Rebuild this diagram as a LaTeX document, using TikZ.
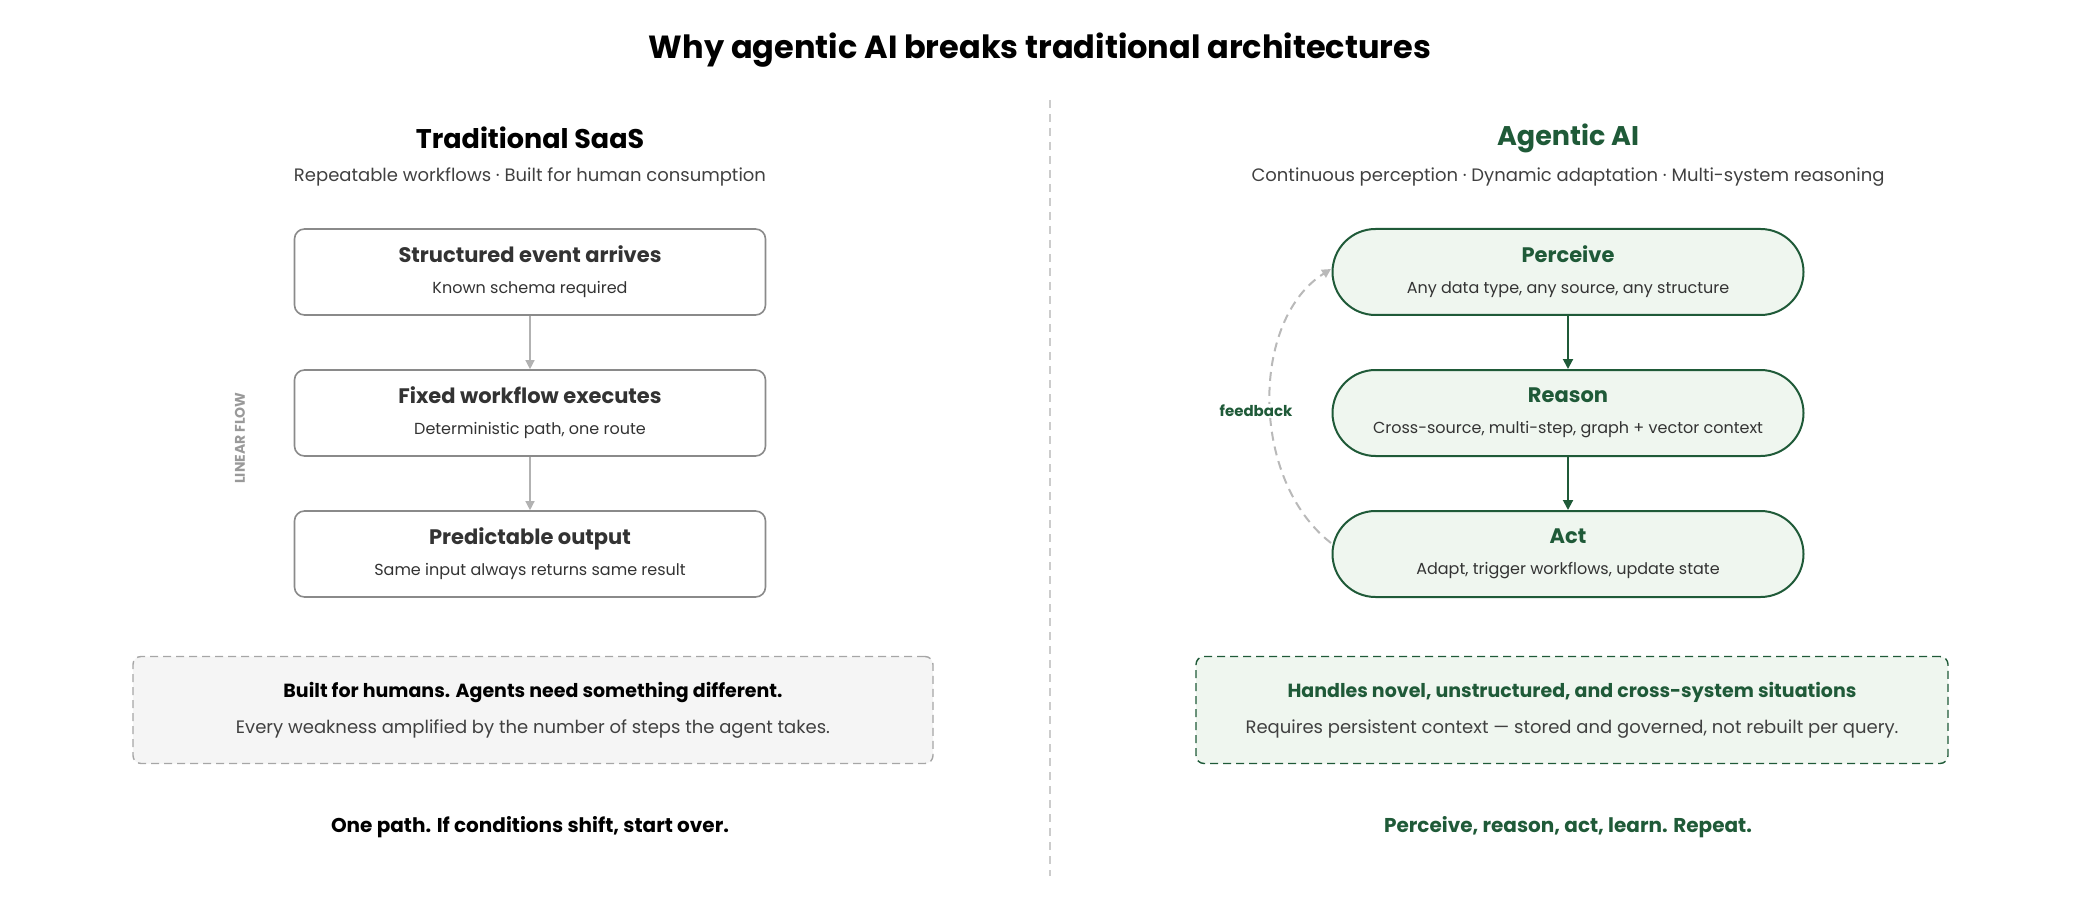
\documentclass[tikz,border=0pt]{standalone}
\usepackage{fontspec}
\setmainfont{Poppins}
\usetikzlibrary{arrows.meta}
\definecolor{dg}{HTML}{1F5A38}
\definecolor{lg}{HTML}{EFF6EF}
\definecolor{gb}{HTML}{8A8A8A}
\begin{document}
\begin{tikzpicture}[x=1pt,y=-1pt,
 box/.style={draw=gb,line width=1.6pt,rounded corners=10pt,fill=white,minimum width=471pt,minimum height=86pt,align=center,font=\fontsize{16}{31}\selectfont,text=black!80},
 pill/.style={draw=dg,line width=2pt,rounded corners=43pt,fill=lg,minimum width=471pt,minimum height=86pt,align=center,font=\fontsize{16}{31}\selectfont,text=black!80},
 bt/.style={font=\fontsize{20}{24}\selectfont\bfseries},
 note/.style={dash pattern=on 8pt off 5pt,line width=1.4pt,rounded corners=8pt,minimum height=107pt,align=center,font=\fontsize{18}{36}\selectfont}]
\useasboundingbox (0,0) rectangle (2080,901);
\node[font=\fontsize{32}{36}\selectfont\bfseries] (title) at (1040,50) {Why agentic AI breaks traditional architectures};
\draw[gray!40,line width=1.2pt,dash pattern=on 8pt off 6pt] (1050,100) -- (1050,876);
% left
\node[font=\fontsize{27}{30}\selectfont\bfseries] (lh) at (530,138) {Traditional SaaS};
\node[font=\fontsize{18}{22}\selectfont,text=black!75] (ls) at (530,177) {Repeatable workflows · Built for human consumption};
\node[box] (b1) at (530,272) {{\fontsize{21}{24}\selectfont\bfseries Structured event arrives}\\Known schema required};
\node[box] (b2) at (530,413) {{\fontsize{21}{24}\selectfont\bfseries Fixed workflow executes}\\Deterministic path, one route};
\node[box] (b3) at (530,554) {{\fontsize{21}{24}\selectfont\bfseries Predictable output}\\Same input always returns same result};
\draw[gray!60,line width=1.3pt,-{Triangle[width=9pt,length=9pt]}] (b1) -- (b2);
\draw[gray!60,line width=1.3pt,-{Triangle[width=9pt,length=9pt]}] (b2) -- (b3);
\node[rotate=90,font=\fontsize{14}{16}\selectfont\bfseries,text=gray!80] (lf) at (240,438) {LINEAR FLOW};
\node[note,draw=gray!70,fill=black!4,minimum width=800pt] (ln) at (533,710) {{\fontsize{19}{22}\selectfont\bfseries Built for humans. Agents need something different.}\\{\color{black!75}Every weakness amplified by the number of steps the agent takes.}};
\node[font=\fontsize{20}{24}\selectfont\bfseries] (lb) at (530,827) {One path. If conditions shift, start over.};
% right
\node[font=\fontsize{27}{30}\selectfont\bfseries,text=dg] (rh) at (1568,138) {Agentic AI};
\node[font=\fontsize{18}{22}\selectfont,text=black!75] (rs) at (1568,177) {Continuous perception · Dynamic adaptation · Multi-system reasoning};
\node[pill] (p1) at (1568,272) {{\color{dg}\fontsize{21}{24}\selectfont\bfseries Perceive}\\Any data type, any source, any structure};
\node[pill] (p2) at (1568,413) {{\color{dg}\fontsize{21}{24}\selectfont\bfseries Reason}\\Cross-source, multi-step, graph + vector context};
\node[pill] (p3) at (1568,554) {{\color{dg}\fontsize{21}{24}\selectfont\bfseries Act}\\Adapt, trigger workflows, update state};
\draw[dg,line width=2pt,-{Triangle[width=10pt,length=10pt]}] (p1) -- (p2);
\draw[dg,line width=2pt,-{Triangle[width=10pt,length=10pt]}] (p2) -- (p3);
\coordinate (fa) at (1331,543);
\coordinate (fb) at (1331,269);
\draw[gray!55,line width=2pt,dash pattern=on 9pt off 6pt,-{Triangle[width=9pt,length=9pt]}] (fa) .. controls (1250,480) and (1250,320) .. (fb);
\node[font=\fontsize{15}{17}\selectfont\bfseries,text=dg,fill=white,inner sep=1pt] (fl) at (1256,411) {feedback};
\node[note,draw=dg,fill=lg,minimum width=752pt] (rn) at (1572,710) {{\fontsize{19}{22}\selectfont\bfseries\color{dg} Handles novel, unstructured, and cross-system situations}\\{\color{black!75}Requires persistent context — stored and governed, not rebuilt per query.}};
\node[font=\fontsize{20}{24}\selectfont\bfseries,text=dg] (rb) at (1568,827) {Perceive, reason, act, learn. Repeat.};
\end{tikzpicture}
\end{document}
